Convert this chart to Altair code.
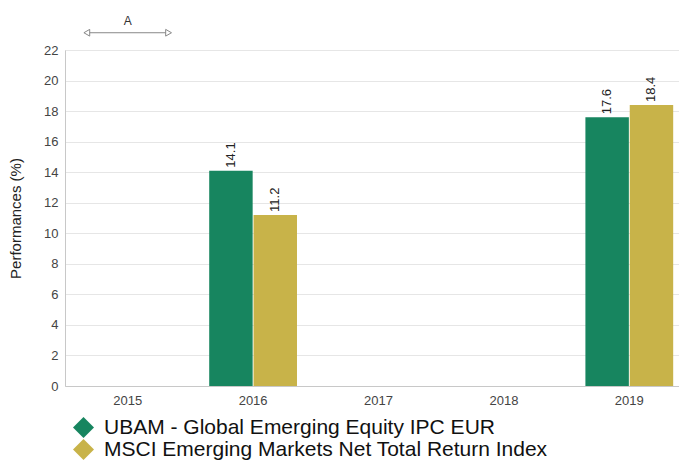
import altair as alt
import pandas as pd

years = ["2015", "2016", "2017", "2018", "2019"]
series = ["UBAM - Global Emerging Equity IPC EUR", "MSCI Emerging Markets Net Total Return Index"]
ubam = [None, 14.1, None, None, 17.6]
msci = [None, 11.2, None, None, 18.4]
colors = ["#17855F", "#C8B349"]
y_ticks = list(range(0, 23, 2))
ann_label = "A"
ann_year = "2015"

rows = []
for s, vals in zip(series, [ubam, msci]):
    for yr, v in zip(years, vals):
        if v is not None:
            rows.append({"year": yr, "series": s, "value": v, "label": f"{v:.1f}"})
df = pd.DataFrame(rows)

font = "Liberation Sans"
xscale = alt.Scale(domain=years, paddingInner=0.3, paddingOuter=0.15)
yscale = alt.Scale(domain=[0, 22], nice=False)
off_scale = alt.Scale(domain=series, paddingInner=0.02)

x_axis = alt.Axis(title=None, labelAngle=0, ticks=False, grid=False,
                  labelPadding=8, labelFontSize=13, labelColor="#444",
                  labelFont=font, domainColor="#c8c8c8")
y_axis = alt.Axis(title="Performances (%)", values=y_ticks, ticks=False,
                  labelPadding=7, labelFontSize=13, labelColor="#444",
                  labelFont=font, titleFont=font, titleFontSize=15,
                  titleFontWeight="normal", titleColor="#222",
                  titlePadding=20, gridColor="#e6e6e6",
                  domainColor="#c8c8c8", labelOverlap=False)


def xe(field="year:N", **kw):
    return alt.X(field, scale=xscale, sort=years, axis=x_axis, **kw)


def ye(field):
    return alt.Y(field, scale=yscale, axis=y_axis)


bars = alt.Chart(df).mark_bar().encode(
    x=xe(),
    xOffset=alt.XOffset("series:N", scale=off_scale, sort=series),
    y=ye("value:Q"),
    color=alt.Color("series:N", scale=alt.Scale(domain=series, range=colors),
                    legend=alt.Legend(title=None, orient="none", legendX=8, legendY=367,
                                      symbolType="diamond", symbolSize=440,
                                      symbolStrokeWidth=0, labelFontSize=21,
                                      labelFont=font, labelColor="#111",
                                      labelOffset=10, rowPadding=0, padding=0,
                                      labelLimit=600, symbolOpacity=1)),
)

texts = alt.Chart(df).mark_text(angle=270, align="left", baseline="middle", dx=3,
                                fontSize=13, font=font, color="#222").encode(
    x=xe(),
    xOffset=alt.XOffset("series:N", scale=off_scale, sort=series),
    y=ye("value:Q"),
    text="label:N",
)

ann = pd.DataFrame({"year": [ann_year], "ly": [23.13], "ty": [23.45], "label": [ann_label]})
rule = alt.Chart(ann).mark_rule(color="#888", strokeWidth=1).encode(
    x=xe(bandPosition=0.05),
    x2=alt.X2("year", bandPosition=0.95),
    y=ye("ly:Q"),
)
tri_l = alt.Chart(ann).mark_point(shape="triangle-left", size=45, filled=True,
                                   fill="white", stroke="#888", strokeWidth=1,
                                   opacity=1, xOffset=3).encode(
    x=xe(bandPosition=0),
    y=ye("ly:Q"),
)
tri_r = alt.Chart(ann).mark_point(shape="triangle-right", size=45, filled=True,
                                   fill="white", stroke="#888", strokeWidth=1,
                                   opacity=1, xOffset=-3).encode(
    x=xe(bandPosition=1),
    y=ye("ly:Q"),
)
atext = alt.Chart(ann).mark_text(baseline="bottom", fontSize=12, font=font,
                                 color="#333").encode(
    x=xe(bandPosition=0.5),
    y=ye("ty:Q"),
    text="label:N",
)

chart = alt.layer(bars, texts, rule, tri_l, tri_r, atext).properties(
    width=627, height=336,
    autosize=alt.AutoSizeParams(type="none"),
    padding={"left": 57, "top": 42, "right": -13, "bottom": 75},
).configure_view(stroke=None).configure(background="white")

chart.save("out.html", embed_options={"renderer": "svg", "actions": False})
